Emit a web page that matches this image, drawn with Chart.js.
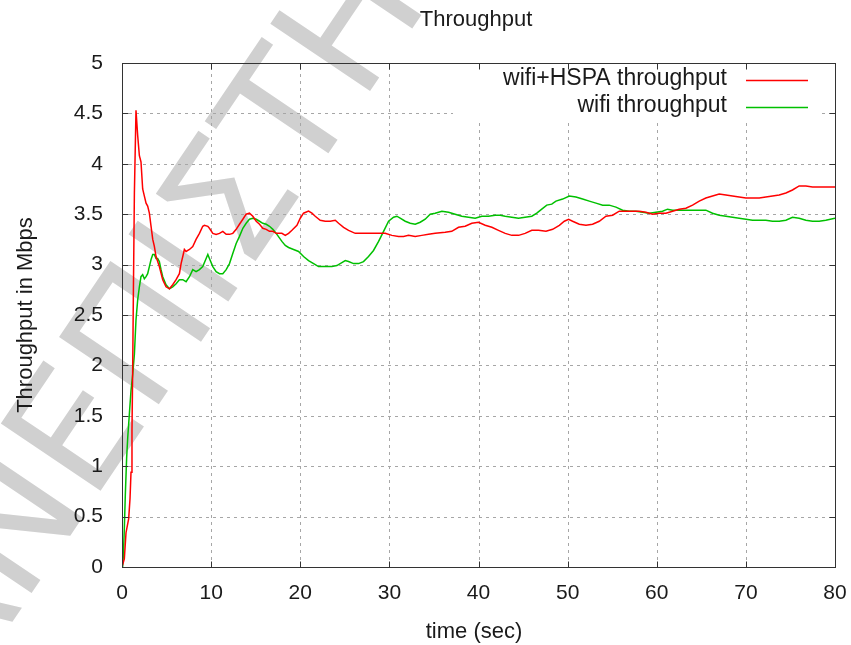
<!DOCTYPE html>
<html>
<head>
<meta charset="utf-8">
<script src="https://cdn.jsdelivr.net/npm/chart.js@4.4.1/dist/chart.umd.min.js"></script>
<style>
  html, body { margin: 0; padding: 0; background: #fff; }
  #wrap { width: 851px; height: 645px; }
</style>
</head>
<body>
<div id="wrap"><canvas id="throughputChart" width="851" height="645"></canvas></div>
<script>
// wifi+HSPA throughput (red)
const hspaTime = [0, 0.26, 0.45, 0.75, 0.9, 1.01, 1.12, 1.2, 1.27, 1.39, 1.57, 1.76, 1.95, 2.13, 2.32, 2.51, 2.7, 2.88, 3.07, 3.26,
  3.45, 3.63, 3.82, 4.19, 4.57, 4.94, 5.32, 5.69, 6.07, 6.44, 6.63, 6.82, 7.0, 7.19, 7.57, 7.94, 8.31, 8.69, 9.06, 9.25,
  9.63, 9.81, 10.19, 10.56, 10.94, 11.31, 11.69, 12.06, 12.43, 12.81, 13.18, 13.56, 13.93, 14.3, 14.68, 15.06, 15.43, 15.8, 16.18, 16.55,
  16.93, 17.3, 17.94, 18.32, 18.69, 19.07, 19.63, 20.0, 20.37, 20.93, 21.31, 21.68, 22.24, 22.8, 23.36, 23.93, 24.3, 24.86, 25.42, 26.17,
  27.29, 28.04, 28.79, 29.53, 30.28, 31.03, 31.59, 32.15, 32.9, 33.64, 34.39, 35.14, 36.26, 37.0, 37.76, 38.5, 39.25, 40.0, 40.75, 41.5,
  42.24, 43.0, 43.74, 44.5, 45.23, 45.98, 46.73, 47.57, 48.32, 49.07, 49.63, 50.11, 50.56, 51.31, 52.06, 52.8, 53.55, 54.3, 55.05, 55.79,
  56.54, 57.29, 58.04, 58.79, 59.53, 60.28, 61.03, 61.78, 62.52, 63.27, 64.02, 64.77, 65.51, 66.26, 67.01, 67.76, 68.5, 69.25, 70.0, 70.75,
  71.5, 72.24, 72.99, 73.74, 74.49, 75.23, 75.98, 76.73, 77.48, 78.22, 78.97, 80];
const hspaRate = [0, 0.08, 0.34, 0.48, 0.68, 0.94, 1.35, 1.98, 2.65, 3.71, 4.53, 4.28, 4.08, 4.02, 3.75, 3.68, 3.61, 3.58, 3.51, 3.38,
  3.25, 3.18, 3.08, 2.98, 2.85, 2.78, 2.76, 2.8, 2.85, 2.91, 3.01, 3.08, 3.15, 3.13, 3.15, 3.18, 3.25, 3.31, 3.38, 3.39,
  3.38, 3.36, 3.31, 3.3, 3.31, 3.33, 3.3, 3.3, 3.31, 3.35, 3.4, 3.45, 3.5, 3.51, 3.48, 3.43, 3.4, 3.36, 3.35, 3.33,
  3.33, 3.31, 3.31, 3.29, 3.31, 3.34, 3.39, 3.46, 3.51, 3.53, 3.51, 3.48, 3.44, 3.43, 3.43, 3.44, 3.41, 3.37, 3.34, 3.31,
  3.31, 3.31, 3.31, 3.31, 3.29, 3.28, 3.28, 3.29, 3.28, 3.29, 3.3, 3.31, 3.32, 3.33, 3.37, 3.38, 3.41, 3.42, 3.39, 3.37,
  3.34, 3.31, 3.29, 3.29, 3.31, 3.34, 3.34, 3.33, 3.35, 3.39, 3.43, 3.45, 3.43, 3.4, 3.39, 3.4, 3.43, 3.48, 3.49, 3.53,
  3.53, 3.53, 3.53, 3.52, 3.5, 3.51, 3.51, 3.53, 3.55, 3.56, 3.59, 3.63, 3.66, 3.68, 3.7, 3.69, 3.68, 3.67, 3.66, 3.66,
  3.66, 3.67, 3.68, 3.69, 3.71, 3.74, 3.78, 3.78, 3.77, 3.77, 3.77, 3.77];

// wifi throughput (green)
const wifiTime = [0, 0.07, 0.15, 0.26, 0.37, 0.52, 0.64, 0.82, 1.01, 1.2, 1.39, 1.57, 1.76, 1.95, 2.13, 2.32, 2.51, 2.7, 2.88, 3.07,
  3.26, 3.45, 3.63, 3.82, 4.0, 4.19, 4.38, 4.57, 4.94, 5.32, 5.69, 6.07, 6.44, 6.82, 7.19, 7.57, 7.94, 8.31, 8.69, 9.06,
  9.44, 9.63, 9.81, 10.19, 10.56, 10.94, 11.31, 11.69, 12.06, 12.43, 12.81, 13.18, 13.56, 13.93, 14.3, 14.68, 15.06, 15.43, 15.8, 16.18,
  16.55, 16.93, 17.3, 17.94, 18.32, 18.69, 19.25, 19.81, 20.37, 20.93, 21.5, 22.05, 22.8, 23.55, 24.11, 24.67, 25.05, 25.42, 25.98, 26.54,
  27.1, 27.66, 28.22, 28.79, 29.35, 29.91, 30.47, 30.84, 31.21, 31.78, 32.34, 32.9, 33.46, 34.02, 34.58, 35.14, 35.89, 36.64, 37.38, 38.13,
  38.88, 39.63, 40.37, 41.12, 41.87, 42.43, 42.99, 43.74, 44.49, 45.23, 45.98, 46.54, 47.1, 47.66, 48.22, 48.69, 49.44, 50.19, 50.93, 51.68,
  52.43, 53.18, 53.93, 54.67, 55.42, 56.17, 56.92, 57.66, 58.41, 59.16, 59.91, 60.65, 61.21, 61.78, 62.52, 63.27, 64.02, 64.77, 65.51, 66.26,
  67.01, 67.76, 68.5, 69.25, 70.0, 70.75, 71.5, 72.24, 72.99, 73.74, 74.49, 75.23, 75.98, 76.73, 77.48, 78.22, 78.97, 80];
const wifiRate = [0, 0.01, 0.11, 0.38, 0.71, 1.08, 1.28, 1.51, 1.75, 1.91, 2.11, 2.45, 2.65, 2.78, 2.88, 2.9, 2.86, 2.88, 2.91, 2.98,
  3.05, 3.1, 3.1, 3.06, 3.06, 3.03, 2.95, 2.88, 2.8, 2.76, 2.78, 2.81, 2.85, 2.85, 2.83, 2.88, 2.95, 2.93, 2.95, 2.98,
  3.06, 3.1, 3.06, 2.98, 2.93, 2.91, 2.91, 2.95, 3.01, 3.11, 3.21, 3.28, 3.36, 3.41, 3.45, 3.46, 3.45, 3.43, 3.41, 3.4,
  3.38, 3.35, 3.31, 3.23, 3.19, 3.17, 3.15, 3.13, 3.08, 3.04, 3.01, 2.98, 2.98, 2.98, 2.99, 3.02, 3.04, 3.03, 3.01, 3.01,
  3.03, 3.08, 3.14, 3.23, 3.33, 3.43, 3.47, 3.48, 3.46, 3.43, 3.41, 3.4, 3.42, 3.45, 3.5, 3.51, 3.53, 3.52, 3.5, 3.48,
  3.47, 3.46, 3.48, 3.48, 3.49, 3.49, 3.48, 3.47, 3.46, 3.47, 3.48, 3.51, 3.55, 3.59, 3.6, 3.63, 3.65, 3.68, 3.67, 3.65,
  3.63, 3.61, 3.59, 3.59, 3.57, 3.54, 3.53, 3.53, 3.52, 3.51, 3.52, 3.53, 3.55, 3.54, 3.54, 3.54, 3.54, 3.54, 3.54, 3.51,
  3.49, 3.48, 3.47, 3.46, 3.45, 3.44, 3.44, 3.44, 3.43, 3.43, 3.44, 3.47, 3.46, 3.44, 3.43, 3.43, 3.44, 3.46];

const seriesLabels = ['wifi+HSPA throughput', 'wifi throughput'];
const seriesColors = ['#ff0000', '#00c000'];
const chartTitle = 'Throughput';
const xTitle = 'time (sec)';
const yTitle = 'Throughput in Mbps';

const FONT = "'Liberation Sans', Arial, sans-serif";
const TEXT = '#1a1a1a';

function toPoints(xs, ys) {
  return xs.map((x, i) => ({ x: x, y: ys[i] }));
}

// watermark sitting under the plot
const watermark = {
  id: 'watermark',
  beforeDraw(chart) {
    const ctx = chart.ctx;
    ctx.save();
    ctx.translate(-110, 803);
    ctx.rotate(-56 * Math.PI / 180);
    ctx.font = "165px 'DejaVu Sans', sans-serif";
    ctx.fillStyle = '#d0d0d0';
    ctx.textBaseline = 'alphabetic';
    ctx.fillText('ΠΑΝΕΠΙΣΤΗΜΙΟ', 0, 0);
    ctx.restore();
  }
};

// dotted grid, gnuplot style
const dottedGrid = {
  id: 'dottedGrid',
  beforeDatasetsDraw(chart) {
    const { ctx, chartArea: a, scales } = chart;
    ctx.save();
    ctx.strokeStyle = '#a6a6a6';
    ctx.lineWidth = 1;
    ctx.setLineDash([3, 4]);
    scales.x.ticks.forEach(t => {
      if (t.value <= scales.x.min || t.value >= scales.x.max) return;
      const px = Math.round(scales.x.getPixelForValue(t.value)) + 0.5;
      ctx.beginPath(); ctx.moveTo(px, a.bottom); ctx.lineTo(px, a.top); ctx.stroke();
    });
    scales.y.ticks.forEach(t => {
      if (t.value <= scales.y.min || t.value >= scales.y.max) return;
      const py = Math.round(scales.y.getPixelForValue(t.value)) + 0.5;
      ctx.beginPath(); ctx.moveTo(a.left, py); ctx.lineTo(a.right, py); ctx.stroke();
    });
    ctx.restore();
  }
};

// key box, frame with inward ticks, titles
const frameAndText = {
  id: 'frameAndText',
  afterDatasetsDraw(chart) {
    const { ctx, chartArea: a, scales } = chart;
    ctx.save();

    // key (opaque)
    ctx.fillStyle = '#fff';
    ctx.fillRect(453, a.top + 1, 367, 57);
    ctx.font = '23px ' + FONT;
    ctx.fillStyle = TEXT;
    ctx.textAlign = 'right';
    ctx.textBaseline = 'middle';
    chart.data.datasets.forEach((ds, i) => {
      const yy = 79 + i * 27;
      ctx.fillText(ds.label, 727, yy);
      ctx.strokeStyle = ds.borderColor;
      ctx.lineWidth = 1.5;
      ctx.beginPath(); ctx.moveTo(746, yy + 1.5); ctx.lineTo(808, yy + 1.5); ctx.stroke();
    });

    // border
    ctx.strokeStyle = '#333';
    ctx.lineWidth = 1;
    const L = Math.round(a.left) + 0.5, R = Math.round(a.right) + 0.5;
    const T = Math.round(a.top) + 0.5, B = Math.round(a.bottom) + 0.5;
    ctx.strokeRect(L, T, R - L, B - T);

    // ticks, mirrored, pointing inward
    const len = 6;
    ctx.beginPath();
    scales.x.ticks.forEach(t => {
      const px = Math.round(scales.x.getPixelForValue(t.value)) + 0.5;
      ctx.moveTo(px, B); ctx.lineTo(px, B - len);
      ctx.moveTo(px, T); ctx.lineTo(px, T + len);
    });
    scales.y.ticks.forEach(t => {
      const py = Math.round(scales.y.getPixelForValue(t.value)) + 0.5;
      ctx.moveTo(L, py); ctx.lineTo(L + len, py);
      ctx.moveTo(R, py); ctx.lineTo(R - len, py);
    });
    ctx.stroke();

    // titles
    ctx.fillStyle = TEXT;
    ctx.font = '22px ' + FONT;
    ctx.textAlign = 'center';
    ctx.textBaseline = 'middle';
    ctx.fillText(chartTitle, 476, 20);
    ctx.fillText(xTitle, 474, 632);
    ctx.translate(32, (a.top + a.bottom) / 2);
    ctx.rotate(-Math.PI / 2);
    ctx.textBaseline = 'alphabetic';
    ctx.fillText(yTitle, 0, 0);
    ctx.restore();
  }
};

const ctx = document.getElementById('throughputChart').getContext('2d');
const throughputChart = new Chart(ctx, {
  type: 'scatter',
  data: {
    datasets: [
      {
        label: seriesLabels[0],
        data: toPoints(hspaTime, hspaRate),
        borderColor: seriesColors[0],
        backgroundColor: seriesColors[0],
        showLine: true,
        borderWidth: 1.5,
        pointRadius: 0,
        tension: 0
      },
      {
        label: seriesLabels[1],
        data: toPoints(wifiTime, wifiRate),
        borderColor: seriesColors[1],
        backgroundColor: seriesColors[1],
        showLine: true,
        borderWidth: 1.5,
        pointRadius: 0,
        tension: 0
      }
    ]
  },
  options: {
    responsive: false,
    animation: false,
    devicePixelRatio: 1,
    layout: { padding: { top: 63, right: 16, left: 0, bottom: 0 } },
    plugins: {
      legend: { display: false },
      title: { display: false },
      tooltip: { enabled: false }
    },
    scales: {
      x: {
        type: 'linear',
        min: 0,
        max: 80,
        afterFit: s => { s.height = 78; s.paddingLeft = 0; s.paddingRight = 0; },
        grid: { display: false, drawTicks: false },
        border: { display: false },
        ticks: { stepSize: 10, padding: 14, color: TEXT, font: { family: FONT, size: 21 } }
      },
      y: {
        min: 0,
        max: 5,
        afterFit: s => { s.width = 122; s.paddingTop = 0; s.paddingBottom = 0; },
        grid: { display: false, drawTicks: false },
        border: { display: false },
        ticks: {
          stepSize: 0.5,
          padding: 19,
          color: TEXT,
          font: { family: FONT, size: 21 },
          callback: v => String(Math.round(v * 10) / 10)
        }
      }
    }
  },
  plugins: [watermark, dottedGrid, frameAndText]
});
</script>
</body>
</html>
